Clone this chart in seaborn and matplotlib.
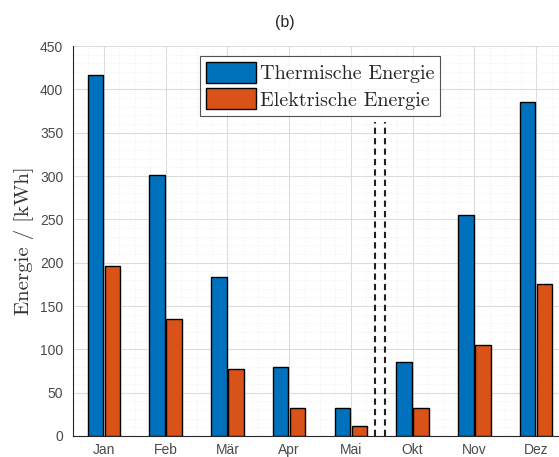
import matplotlib
matplotlib.use("Agg")
import matplotlib.pyplot as plt
from matplotlib.ticker import MultipleLocator
import seaborn as sns
import pandas as pd

# Monthly energy demand (heating season)
months = ["Jan", "Feb", "Mär", "Apr", "Mai", "Okt", "Nov", "Dez"]
thermal = [417, 301, 184, 80, 32, 85, 255, 386]
electric = [196, 135, 77, 32, 11, 32, 105, 175]
series_names = ["Thermische Energie", "Elektrische Energie"]
colors = ["#0072BD", "#D95319"]

df = pd.DataFrame({
    "Monat": months * 2,
    "Energie": thermal + electric,
    "Art": [series_names[0]] * len(months) + [series_names[1]] * len(months),
})

sns.set_style("white")
plt.rcParams["font.family"] = ["Liberation Sans", "DejaVu Sans"]
plt.rcParams["axes.unicode_minus"] = False

fig = plt.figure(figsize=(5.59, 4.57), dpi=100)
ax = fig.add_axes([0.1306, 0.046, 0.8837, 0.853])

sns.barplot(data=df, x="Monat", y="Energie", hue="Art", order=months,
            hue_order=series_names, palette=colors, width=0.55, gap=0.1,
            edgecolor="black", linewidth=1.0, saturation=1, ax=ax, zorder=3)

# separator between spring and autumn months
for xv in (4.39, 4.55):
    ax.plot([xv, xv], [0, 363], color="#202020", linestyle=(0, (3, 2)),
            linewidth=1.5, zorder=4)

ax.set_xlim(-0.5, 7.5)
ax.set_ylim(0, 450)
ax.yaxis.set_major_locator(MultipleLocator(50))
ax.yaxis.set_minor_locator(MultipleLocator(10))
ax.xaxis.set_minor_locator(MultipleLocator(0.25))

ax.grid(which="major", color="#dcdcdc", linewidth=0.8, zorder=0)
ax.grid(which="minor", color="#ececec", linewidth=0.6, linestyle=(0, (1, 2)), zorder=0)
ax.set_axisbelow(True)

ax.tick_params(axis="both", which="major", direction="in", length=4,
               labelsize=10, colors="#262626", labelcolor="#4a4a4a", width=0.6)
ax.tick_params(axis="both", which="minor", length=0)
ax.tick_params(axis="x", pad=5)
ax.tick_params(axis="y", pad=7)
for side in ("left", "bottom"):
    ax.spines[side].set_color("#262626")
    ax.spines[side].set_linewidth(0.8)
for side in ("top", "right"):
    ax.spines[side].set_visible(False)

ax.set_xlabel("")
ax.set_ylabel("Energie / [kWh]", family=["cmr10", "DejaVu Serif"], fontsize=15,
              color="#333333", labelpad=4)
fig.text(285 / 559, 1 - 22 / 457, "(b)", ha="center", va="center",
         fontsize=11.5, color="#262626")

leg = ax.legend(loc="upper center", bbox_to_anchor=(0.5, 1.0),
                prop={"family": ["cmr10", "DejaVu Serif"], "size": 14.5},
                frameon=True, fancybox=False, edgecolor="#262626",
                handlelength=2.5, handleheight=1.2, handletextpad=0.2,
                labelspacing=0.25, borderpad=0.3, borderaxespad=0.5)
leg.get_frame().set_linewidth(0.8)
leg.set_zorder(5)

fig.savefig("out.png", dpi=100)
